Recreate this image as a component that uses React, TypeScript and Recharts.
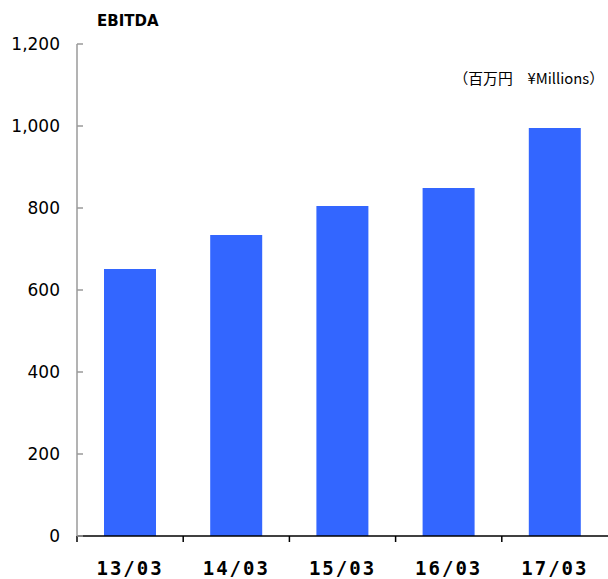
import React from 'react';
import { BarChart, Bar, XAxis, YAxis, Customized } from 'recharts';

const categories = ['13/03', '14/03', '15/03', '16/03', '17/03'];
const ebitda = [651, 734, 805, 849, 995];
const yTicks = [0, 200, 400, 600, 800, 1000, 1200];
const title = 'EBITDA';
const unitLabel = '（百万円　¥Millions）';

const data = categories.map((c, i) => ({ period: c, ebitda: ebitda[i] }));

const W = 608;
const H = 579;
const margin = { top: 44, right: 0, bottom: 0, left: 0 };
const Y_W = 77;
const X_H = 43;
const band = (W - Y_W - margin.left - margin.right) / categories.length;

const YTick = (props: any) => {
  const { x, y, payload } = props;
  return (
    <g>
      <line x1={x + 17} x2={x + 23} y1={y} y2={y} stroke="#9a9a9a" strokeWidth={1.5} />
      <text x={x} y={y} dy={6} textAnchor="end" fontSize={17} fontFamily="DejaVu Sans" fill="#000">
        {Number(payload.value).toLocaleString('en-US')}
      </text>
    </g>
  );
};

const XTick = (props: any) => {
  const { x, y, payload } = props;
  return (
    <g>
      <line x1={x - band / 2} x2={x - band / 2} y1={y} y2={y + 6} stroke="#000" strokeWidth={1.5} />
      <text
        x={x}
        y={y + 39}
        textAnchor="middle"
        fontSize={19}
        fontWeight="bold"
        letterSpacing={2}
        fontFamily="DejaVu Sans Mono"
        fill="#000"
      >
        {payload.value}
      </text>
    </g>
  );
};

const Labels = () => (
  <g>
    <text x={97} y={26} fontSize={15} fontWeight="bold" fontFamily="DejaVu Sans" fill="#000">
      {title}
    </text>
    <text x={604} y={84} textAnchor="end" fontSize={14.8} fontFamily="Noto Sans CJK JP" fill="#000">
      {unitLabel}
    </text>
  </g>
);

export default function App() {
  return (
    <div style={{ position: 'absolute', left: 0, top: 0, width: W, height: H, background: '#fff' }}>
      <BarChart width={W} height={H} data={data} margin={margin} barCategoryGap="0%">
        <XAxis
          dataKey="period"
          height={X_H}
          tickLine={false}
          tickSize={0}
          tickMargin={0}
          axisLine={{ stroke: '#000', strokeWidth: 1.5 }}
          tick={<XTick />}
          interval={0}
        />
        <YAxis
          width={Y_W}
          domain={[0, 1200]}
          ticks={yTicks}
          tickLine={false}
          tickSize={0}
          tickMargin={17}
          axisLine={{ stroke: '#9a9a9a', strokeWidth: 1.5 }}
          tick={<YTick />}
          interval={0}
        />
        <Bar dataKey="ebitda" fill="#3366ff" barSize={52} isAnimationActive={false} />
        <Customized component={<Labels />} />
      </BarChart>
    </div>
  );
}
